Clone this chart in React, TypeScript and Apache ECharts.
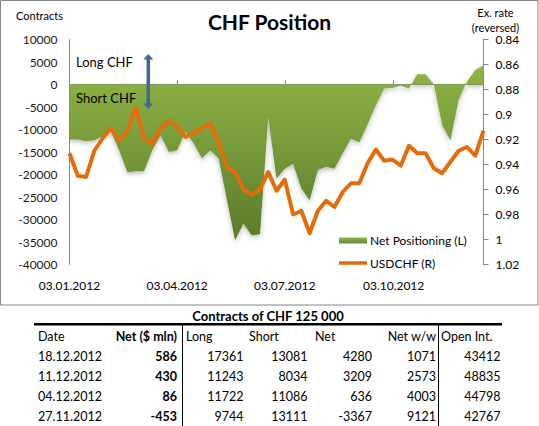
import React, { useEffect, useRef } from "react";
import * as echarts from "echarts";

const dates = [
  "2012-01-03", "2012-01-10", "2012-01-17", "2012-01-24", "2012-01-31",
  "2012-02-07", "2012-02-14", "2012-02-21", "2012-02-28",
  "2012-03-06", "2012-03-13", "2012-03-20", "2012-03-27",
  "2012-04-03", "2012-04-10", "2012-04-17", "2012-04-24",
  "2012-05-01", "2012-05-08", "2012-05-15", "2012-05-22", "2012-05-29",
  "2012-06-05", "2012-06-12", "2012-06-19", "2012-06-26",
  "2012-07-03", "2012-07-10", "2012-07-17", "2012-07-24", "2012-07-31",
  "2012-08-07", "2012-08-14", "2012-08-21", "2012-08-28",
  "2012-09-04", "2012-09-11", "2012-09-18", "2012-09-25",
  "2012-10-02", "2012-10-09", "2012-10-16", "2012-10-23", "2012-10-30",
  "2012-11-06", "2012-11-13", "2012-11-20", "2012-11-27",
  "2012-12-04", "2012-12-11", "2012-12-18",
];

const netPositioning = [
  -12200, -12200, -12600, -12400, -11500,
  -10500, -14600, -19500, -19300,
  -19300, -14600, -11300, -15000,
  -14600, -10500, -13100, -16400,
  -14600, -16400, -25500, -34600, -30900,
  -33500, -33300, -7200, -20900,
  -18700, -17600, -23100, -25700, -19000,
  -18300, -18700, -15300, -12000,
  -12900, -8900, -4600, -900,
  -750, -300, -900, 2300, 2300,
  50, -9000, -12400, -3367,
  636, 3209, 4280,
];

const usdchf = [
  0.931, 0.949, 0.95, 0.929, 0.919,
  0.911, 0.921, 0.913, 0.894,
  0.919, 0.923, 0.911, 0.905,
  0.91, 0.918, 0.915, 0.911,
  0.907, 0.922, 0.942, 0.946, 0.96,
  0.964, 0.96, 0.946, 0.961,
  0.952, 0.98, 0.977, 0.995, 0.977,
  0.969, 0.974, 0.962, 0.955,
  0.955, 0.939, 0.928, 0.937,
  0.936, 0.941, 0.925, 0.931, 0.931,
  0.943, 0.947, 0.938, 0.929,
  0.926, 0.933, 0.913,
];

const xLabelDates = ["2012-01-03", "2012-04-03", "2012-07-03", "2012-10-03"];

const seriesNames = ["Net Positioning (L)", "USDCHF (R)"];
const chartTitle = "CHF Position";
const leftAxisName = "Contracts";
const rightAxisName = "Ex. rate\n(reversed)";
const annotations = ["Long CHF", "Short CHF"];

const tableTitle = "Contracts of CHF 125 000";
const tableHeaders = ["Date", "Net ($ mln)", "Long", "Short", "Net", "Net w/w", "Open Int."];
const tableDates = ["18.12.2012", "11.12.2012", "04.12.2012", "27.11.2012"];
const tableNetMln = [586, 430, 86, -453];
const tableLong = [17361, 11243, 11722, 9744];
const tableShort = [13081, 8034, 11086, 13111];
const tableNet = [4280, 3209, 636, -3367];
const tableNetWW = [1071, 2573, 4003, 9121];
const tableOpenInt = [43412, 48835, 44798, 42767];

const FONT = "Lato, 'Noto Sans', sans-serif";

function ts(s: string): number {
  const [y, m, d] = s.split("-").map(Number);
  return Date.UTC(y, m - 1, d);
}

function fmtDate(v: number): string {
  const d = new Date(v);
  const dd = String(d.getUTCDate()).padStart(2, "0");
  const mm = String(d.getUTCMonth() + 1).padStart(2, "0");
  return `${dd}.${mm}.${d.getUTCFullYear()}`;
}

export default function App() {
  const ref = useRef<HTMLDivElement>(null);

  useEffect(() => {
    document.body.style.margin = "0";
    if (!ref.current) return;
    const chart = echarts.init(ref.current, undefined, { renderer: "svg" });

    const xMin = ts(dates[0]);
    const xMax = ts(dates[dates.length - 1]);
    const labelVals = xLabelDates.map(ts);

    const greenGrad = new echarts.graphic.LinearGradient(0, 0, 0, 1, [
      { offset: 0, color: "#8fb545" },
      { offset: 1, color: "#5b7b2b" },
    ]);
    const legendGrad = new echarts.graphic.LinearGradient(0, 0, 0, 1, [
      { offset: 0, color: "#8fb545" },
      { offset: 1, color: "#6a8a32" },
    ]);

    const txt = (text: string, x: number, y: number, align: string, bold = false, size = 12.5) => ({
      type: "text",
      x,
      y,
      z: 100,
      silent: true,
      style: {
        text,
        fill: "#000",
        font: `${bold ? "bold " : ""}${size}px ${FONT}`,
        align,
        verticalAlign: "middle",
      },
    });

    const rowsY = [356.7, 376.7, 396.7, 416.7];
    const tableEls: any[] = [];
    tableEls.push(txt(tableTitle, 268, 315.5, "center", true, 13));
    tableEls.push({
      type: "line",
      shape: { x1: 34, y1: 324.3, x2: 502, y2: 324.3 },
      style: { stroke: "#000", lineWidth: 2.5 },
    });
    tableEls.push({
      type: "line",
      shape: { x1: 182.5, y1: 325, x2: 182.5, y2: 426 },
      style: { stroke: "#000", lineWidth: 1 },
    });
    tableEls.push({
      type: "line",
      shape: { x1: 438.5, y1: 325, x2: 438.5, y2: 426 },
      style: { stroke: "#000", lineWidth: 1 },
    });
    const hy = 336;
    tableEls.push(txt(tableHeaders[0], 38, hy, "left"));
    tableEls.push(txt(tableHeaders[1], 177, hy, "right", true));
    tableEls.push(txt(tableHeaders[2], 186, hy, "left"));
    tableEls.push(txt(tableHeaders[3], 249, hy, "left"));
    tableEls.push(txt(tableHeaders[4], 315, hy, "left"));
    tableEls.push(txt(tableHeaders[5], 436, hy, "right"));
    tableEls.push(txt(tableHeaders[6], 441, hy, "left"));
    tableDates.forEach((d, i) => {
      const y = rowsY[i];
      tableEls.push(txt(d, 38, y, "left"));
      tableEls.push(txt(String(tableNetMln[i]), 177, y, "right", true));
      tableEls.push(txt(String(tableLong[i]), 243.5, y, "right"));
      tableEls.push(txt(String(tableShort[i]), 307.5, y, "right"));
      tableEls.push(txt(String(tableNet[i]), 372, y, "right"));
      tableEls.push(txt(String(tableNetWW[i]), 436, y, "right"));
      tableEls.push(txt(String(tableOpenInt[i]), 500.5, y, "right"));
    });

    const arrowColor = "#3f6797";
    const ax = 148.3;

    chart.setOption({
      animation: false,
      title: {
        text: chartTitle,
        left: "center",
        top: 6,
        textStyle: { fontFamily: FONT, fontWeight: "bold", fontSize: 21, color: "#000" },
      },
      grid: { left: 69.5, top: 39.5, width: 414, height: 225, containLabel: false },
      legend: [
        {
          data: [{ name: seriesNames[0], icon: "rect", itemStyle: { color: legendGrad } }],
          left: 339,
          top: 234.5,
          itemWidth: 28,
          itemHeight: 6,
          padding: 0,
          selectedMode: false,
          textStyle: { fontFamily: FONT, fontSize: 12, color: "#000", padding: [0, 0, 0, -2] },
        },
        {
          data: [
            {
              name: seriesNames[1],
              icon: "rect",
              itemStyle: { color: "#e46c0a", borderWidth: 0 },
            },
          ],
          left: 339,
          top: 257,
          itemWidth: 28,
          itemHeight: 3.5,
          padding: 0,
          selectedMode: false,
          textStyle: { fontFamily: FONT, fontSize: 12, color: "#000", padding: [0, 0, 0, -2] },
        },
      ],
      xAxis: [
        {
          type: "value",
          min: xMin,
          max: xMax,
          position: "bottom",
          axisLine: { show: true, onZero: true, lineStyle: { color: "#868686", width: 1 } },
          axisTick: {
            show: true,
            inside: true,
            length: 4,
            customValues: labelVals,
            lineStyle: { color: "#868686" },
          },
          axisLabel: { show: false },
          splitLine: { show: false },
        },
        {
          type: "value",
          min: xMin,
          max: xMax,
          position: "bottom",
          axisLine: { show: false, onZero: false },
          axisTick: { show: false },
          axisLabel: {
            show: true,
            customValues: labelVals,
            formatter: (v: number) => fmtDate(v),
            margin: 15,
            fontFamily: FONT,
            fontSize: 12,
            color: "#000",
            hideOverlap: false,
          },
          splitLine: { show: false },
        },
      ],
      yAxis: [
        {
          type: "value",
          min: -40000,
          max: 10000,
          interval: 5000,
          position: "left",
          axisLine: { show: true, lineStyle: { color: "#868686", width: 1 } },
          axisTick: { show: false },
          axisLabel: {
            margin: 12,
            fontFamily: FONT,
            fontSize: 12,
            color: "#1a1a1a",
            formatter: (v: number) => String(v),
          },
          splitLine: { show: false },
        },
        {
          type: "value",
          min: 0.84,
          max: 1.02,
          interval: 0.02,
          inverse: true,
          position: "right",
          axisLine: { show: true, lineStyle: { color: "#868686", width: 1 } },
          axisTick: { show: true, inside: false, length: 5, lineStyle: { color: "#868686" } },
          axisLabel: {
            margin: 12,
            fontFamily: FONT,
            fontSize: 12,
            color: "#000",
            formatter: (v: number) => String(Number(v.toFixed(2))),
          },
          splitLine: { show: false },
        },
      ],
      series: [
        {
          name: seriesNames[0],
          type: "line",
          xAxisIndex: 0,
          yAxisIndex: 0,
          data: dates.map((d, i) => [ts(d), netPositioning[i]]),
          showSymbol: false,
          symbol: "none",
          lineStyle: { width: 0, color: "#7da23c" },
          itemStyle: { color: legendGrad },
          areaStyle: {
            origin: 0,
            color: greenGrad,
            opacity: 1,
            shadowColor: "rgba(0,0,0,0.28)",
            shadowBlur: 5,
            shadowOffsetY: 2,
          },
          z: 1,
        },
        {
          name: seriesNames[1],
          type: "line",
          xAxisIndex: 0,
          yAxisIndex: 1,
          data: dates.map((d, i) => [ts(d), usdchf[i]]),
          showSymbol: false,
          symbol: "none",
          lineStyle: { width: 4, color: "#e46c0a", join: "round" },
          itemStyle: { color: "#e46c0a" },
          z: 3,
        },
      ],
      graphic: [
        {
          type: "rect",
          shape: { x: 0.5, y: 0.5, width: 537.5, height: 304.5 },
          style: { fill: "none", stroke: "#868686", lineWidth: 1 },
          silent: true,
          z: -10,
        },
        txt(leftAxisName, 39.5, 15, "center", false, 11),
        {
          type: "text",
          x: 495.5,
          y: 19.5,
          z: 100,
          silent: true,
          style: {
            text: rightAxisName,
            fill: "#000",
            font: `11px ${FONT}`,
            align: "center",
            verticalAlign: "middle",
            lineHeight: 15,
          },
        },
        txt(annotations[0], 76, 61.7, "left", false, 13),
        txt(annotations[1], 76, 97.7, "left", false, 13),
        {
          type: "line",
          shape: { x1: ax, y1: 59, x2: ax, y2: 104 },
          style: { stroke: arrowColor, lineWidth: 3.5 },
          silent: true,
          z: 100,
        },
        {
          type: "polygon",
          shape: { points: [[ax - 5, 59.5], [ax + 5, 59.5], [ax, 54]] },
          style: { fill: arrowColor },
          silent: true,
          z: 100,
        },
        {
          type: "polygon",
          shape: { points: [[ax - 5, 103.5], [ax + 5, 103.5], [ax, 109]] },
          style: { fill: arrowColor },
          silent: true,
          z: 100,
        },
        ...tableEls,
      ],
    });

    return () => chart.dispose();
  }, []);

  return <div ref={ref} style={{ width: 539, height: 426 }} />;
}
